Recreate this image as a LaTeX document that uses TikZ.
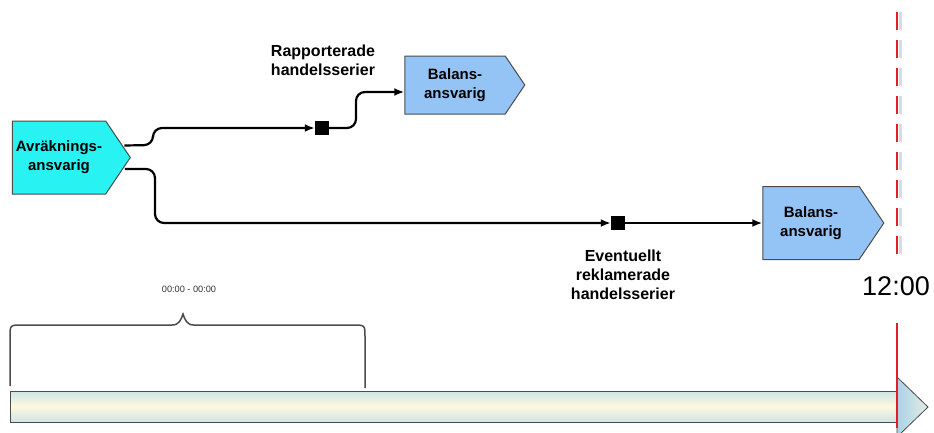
\documentclass[tikz,border=0pt]{standalone}
\usepackage{fontspec}
\setmainfont{Liberation Sans}
\usepackage{xcolor}
\usepackage{tikz}
\usetikzlibrary{arrows.meta,shapes.symbols}

\definecolor{avrcol}{RGB}{40,242,242}
\definecolor{balcol}{RGB}{148,196,245}
\definecolor{linecol}{RGB}{75,75,75}
\definecolor{barside}{RGB}{208,228,230}
\definecolor{barmid}{RGB}{252,249,222}
\definecolor{tipside}{RGB}{170,210,232}
\definecolor{markred}{RGB}{225,30,40}
\definecolor{markshadow}{RGB}{212,220,234}

\begin{document}
\begin{tikzpicture}[
  x=1pt, y=1pt,
  role/.style={draw=linecol, line width=1pt, shape=signal, signal to=east,
    signal pointer angle=112, inner sep=0pt, align=center,
    font=\fontsize{15}{19}\selectfont\bfseries},
  flowlab/.style={align=center, font=\fontsize{16}{19}\selectfont\bfseries},
  junc/.style={fill=black, minimum size=14pt, inner sep=0pt},
  conn/.style={line width=2.2pt, rounded corners=9pt, -{Latex[length=10pt,width=8pt]}},
  deadline/.style={line width=2.6pt, markred},
]
\useasboundingbox (0,0) rectangle (934,-432);

% aktörer
\node[role, fill=avrcol, minimum width=118pt, minimum height=73pt] (avr) at (59,-157.5) {Avräknings-\\ansvarig};
\node[role, fill=balcol, minimum width=120pt, minimum height=58pt] (bal1) at (455,-85) {Balans-\\ansvarig};
\node[role, fill=balcol, minimum width=121pt, minimum height=73pt] (bal2) at (811,-223) {Balans-\\ansvarig};

% rapporterade handelsserier
\node[junc] (sq1) at (322,-128) {};
\node[flowlab] (rapp) at (323,-60) {Rapporterade\\handelsserier};
\draw[conn] ([shift={(-6.5pt,12pt)}]avr.east) -- (153,-145) -- (153,-128) -- (sq1.west);
\draw[conn] (sq1.east) -- (356,-128) -- (356,-92) -- ([yshift=-7pt]bal1.west);

% reklamerade handelsserier
\node[junc] (sq2) at (618,-223) {};
\node[flowlab] (rekl) at (623,-275) {Eventuellt\\reklamerade\\handelsserier};
\draw[conn] ([shift={(-6pt,-11.5pt)}]avr.east) -- (155,-169) -- (155,-223) -- (sq2.west);
\draw[conn] (sq2.east) -- (bal2.west);

% tidslinje
\shade[draw=linecol, line width=0.8pt, top color=barside, bottom color=barside, middle color=barmid]
  (10,-391) rectangle (897,-422);
\shade[draw=linecol, line width=0.8pt, left color=tipside, right color=barmid!70!tipside]
  (897,-377) -- (928,-407) -- (897,-437) -- cycle;

% klockslag 12:00
\coordinate (dltop) at (897,-12);
\coordinate (dlbot) at (897,-262);
\draw[line width=2.4pt, markshadow, dash pattern=on 18pt off 10pt] ([xshift=3.5pt]dltop) -- ([xshift=3.5pt]dlbot);
\draw[deadline, dash pattern=on 18pt off 10pt] (dltop) -- (dlbot);
\node[font=\fontsize{27}{30}\selectfont] (kl) at (896,-286) {12:00};
\draw[deadline] (897,-323) -- (897,-428);

% intervall
\draw[linecol, line width=1.5pt]
  (10,-386) -- (10,-337) .. controls (10,-325) .. (22,-325) -- (172,-325)
  .. controls (179,-325) and (181,-320) .. (183,-314)
  .. controls (185,-320) and (187,-325) .. (194,-325)
  -- (353,-325) .. controls (365,-325) .. (365,-337) -- (365,-388);
\node[font=\fontsize{9.2}{11}\selectfont, text=black!80] (intv) at (189,-289) {00:00 - 00:00};
\end{tikzpicture}
\end{document}
